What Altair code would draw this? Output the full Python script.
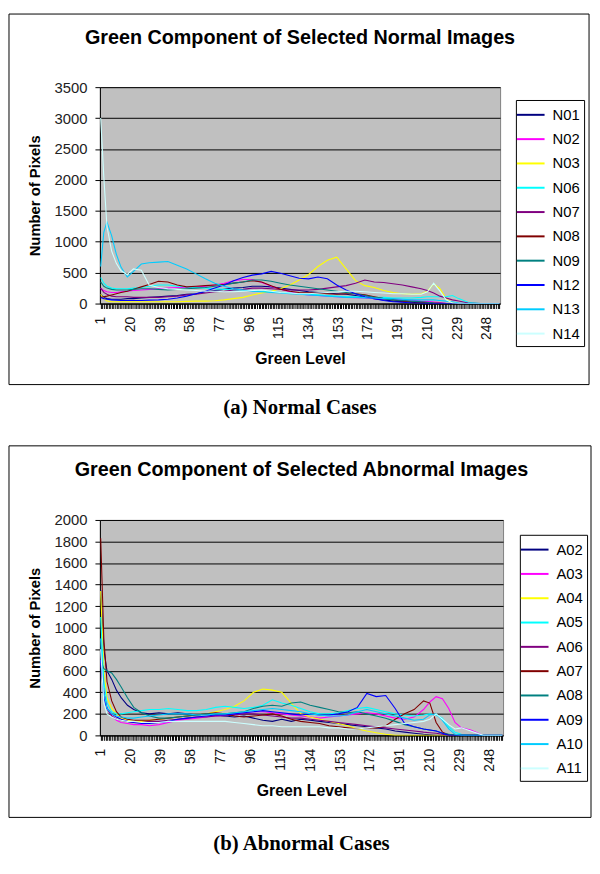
import altair as alt
import pandas as pd

LEVELS = [1, 3, 5, 8, 11, 14, 18, 22,
          27, 32, 38, 44, 50, 56, 62, 68,
          74, 80, 86, 92, 98, 104, 110, 116,
          122, 128, 134, 140, 146, 152, 158, 164,
          170, 176, 182, 188, 194, 200, 206, 210,
          214, 218, 222, 226, 230, 236, 244, 256]

COLORS = ["#000080", "#FF00FF", "#FFFF00", "#00FFFF", "#800080",
          "#800000", "#008080", "#0000FF", "#00CCFF", "#CCFFFF"]

NORMAL_NAMES = ["N01", "N02", "N03", "N06", "N07", "N08", "N09", "N12", "N13", "N14"]
N01 = [150, 100, 80, 70, 70, 70, 80, 80, 90, 100, 110, 120, 130, 150, 160, 190,
       210, 230, 250, 260, 280, 280, 270, 250, 230, 210, 190, 180, 170, 160, 150, 130,
       100, 80, 60, 40, 30, 20, 10, 5, 0, 0, 0, 0, 0, 0, 0, 0]
N02 = [250, 210, 190, 180, 180, 190, 200, 210, 220, 230, 240, 250, 260, 260, 270, 280,
       300, 330, 370, 390, 390, 340, 280, 230, 190, 160, 140, 130, 120, 110, 100, 95,
       90, 80, 75, 70, 60, 55, 40, 35, 25, 15, 5, 0, 0, 0, 0, 0]
N03 = [150, 80, 40, 30, 30, 30, 30, 30, 30, 30, 30, 30, 30, 35, 40, 40,
       45, 60, 80, 100, 140, 170, 200, 240, 300, 380, 470, 600, 700, 750, 560, 370,
       290, 260, 210, 180, 160, 150, 160, 200, 320, 240, 80, 10, 0, 0, 0, 0]
N06 = [420, 330, 280, 250, 240, 240, 240, 250, 260, 280, 300, 300, 280, 270, 260, 250,
       240, 230, 220, 220, 210, 200, 200, 180, 170, 160, 150, 140, 130, 120, 110, 110,
       100, 100, 100, 90, 90, 90, 100, 110, 110, 110, 110, 130, 80, 20, 0, 0]
N07 = [250, 180, 150, 120, 110, 110, 110, 100, 100, 100, 100, 110, 120, 140, 150, 170,
       190, 200, 220, 230, 250, 250, 240, 230, 220, 220, 220, 230, 250, 270, 290, 330,
       380, 350, 340, 320, 300, 270, 240, 210, 170, 120, 90, 60, 40, 10, 0, 0]
N08 = [100, 110, 120, 140, 160, 180, 200, 230, 270, 310, 360, 350, 300, 270, 280, 290,
       300, 310, 330, 350, 370, 350, 290, 230, 200, 180, 175, 170, 160, 150, 160, 160,
       140, 110, 80, 60, 40, 30, 20, 15, 10, 5, 0, 0, 0, 0, 0, 0]
N09 = [350, 280, 250, 230, 220, 220, 220, 230, 240, 240, 230, 220, 230, 240, 250, 260,
       280, 300, 330, 350, 380, 380, 360, 330, 300, 280, 260, 240, 220, 200, 180, 160,
       130, 100, 80, 60, 50, 40, 30, 20, 10, 5, 0, 0, 0, 0, 0, 0]
N12 = [100, 80, 70, 60, 55, 50, 50, 50, 50, 55, 60, 70, 90, 120, 160, 200,
       250, 300, 370, 420, 460, 480, 520, 490, 450, 410, 400, 430, 400, 300, 220, 160,
       110, 80, 50, 30, 20, 10, 5, 0, 0, 0, 0, 0, 0, 0, 0, 0]
N13 = [600, 1150, 1320, 1100, 800, 590, 430, 520, 640, 660, 670, 680, 620, 560, 480, 400,
       330, 280, 240, 220, 200, 190, 180, 170, 160, 150, 140, 130, 120, 110, 100, 100,
       90, 90, 80, 80, 70, 60, 60, 60, 60, 50, 40, 30, 10, 0, 0, 0]
N14 = [3000, 2050, 1250, 850, 650, 530, 470, 560, 540, 300, 260, 240, 230, 220, 210, 200,
       200, 190, 190, 200, 210, 220, 200, 180, 170, 160, 160, 170, 180, 190, 200, 200,
       190, 180, 170, 160, 160, 150, 150, 190, 330, 200, 60, 10, 0, 0, 0, 0]
NORMAL = [N01, N02, N03, N06, N07, N08, N09, N12, N13, N14]

ABNORMAL_NAMES = ["A02", "A03", "A04", "A05", "A06", "A07", "A08", "A09", "A10", "A11"]
A02 = [1350, 800, 600, 520, 420, 350, 280, 240, 210, 200, 210, 200, 210, 200, 190, 200,
       190, 180, 170, 180, 160, 140, 130, 150, 130, 150, 140, 130, 120, 110, 100, 90,
       80, 70, 60, 40, 30, 20, 10, 5, 0, 0, 0, 0, 0, 0, 0, 0]
A03 = [700, 400, 250, 180, 140, 120, 110, 100, 100, 90, 100, 120, 140, 150, 160, 170,
       180, 190, 200, 210, 220, 220, 210, 200, 190, 180, 170, 160, 170, 180, 190, 200,
       210, 200, 180, 160, 150, 170, 240, 310, 360, 340, 250, 120, 70, 50, 0, 0]
A04 = [1340, 600, 350, 250, 200, 160, 140, 130, 130, 140, 150, 160, 170, 180, 190, 200,
       220, 240, 270, 320, 400, 430, 420, 400, 300, 200, 170, 150, 130, 110, 90, 60,
       40, 25, 10, 0, 0, 0, 0, 0, 0, 0, 0, 0, 0, 0, 0, 0]
A05 = [1100, 500, 300, 220, 200, 200, 210, 220, 230, 240, 240, 250, 240, 230, 230, 240,
       260, 270, 260, 250, 260, 280, 330, 300, 280, 250, 220, 200, 200, 210, 230, 250,
       260, 240, 220, 200, 190, 180, 190, 200, 190, 160, 80, 30, 10, 0, 0, 0]
A06 = [800, 400, 250, 180, 150, 140, 130, 120, 120, 130, 130, 140, 150, 160, 170, 170,
       180, 180, 190, 200, 200, 190, 180, 170, 160, 160, 150, 140, 130, 120, 110, 100,
       90, 80, 70, 60, 50, 40, 30, 25, 20, 10, 0, 0, 0, 0, 0, 0]
A07 = [1830, 900, 500, 320, 220, 170, 150, 140, 140, 140, 150, 160, 170, 180, 190, 200,
       210, 200, 180, 170, 180, 190, 200, 180, 150, 130, 120, 110, 90, 80, 70, 60,
       70, 70, 90, 150, 200, 240, 320, 300, 120, 30, 5, 0, 0, 0, 0, 0]
A08 = [700, 620, 600, 580, 520, 450, 350, 260, 210, 180, 160, 160, 170, 180, 190, 200,
       200, 200, 210, 220, 250, 270, 280, 270, 300, 310, 280, 260, 240, 220, 210, 220,
       200, 180, 160, 130, 100, 80, 60, 50, 40, 20, 10, 0, 0, 0, 0, 0]
A09 = [700, 350, 250, 200, 170, 150, 130, 120, 110, 110, 120, 130, 150, 160, 170, 180,
       190, 190, 200, 210, 220, 230, 220, 210, 200, 190, 200, 190, 190, 200, 220, 260,
       390, 360, 370, 250, 110, 80, 60, 50, 40, 20, 0, 0, 0, 0, 0, 0]
A10 = [900, 400, 250, 200, 180, 170, 160, 160, 170, 180, 190, 200, 200, 200, 190, 190,
       200, 200, 210, 220, 230, 240, 250, 240, 230, 220, 200, 190, 180, 180, 190, 220,
       240, 220, 200, 180, 160, 140, 150, 190, 200, 140, 60, 10, 0, 0, 0, 0]
A11 = [800, 300, 200, 170, 150, 140, 130, 130, 120, 120, 120, 130, 130, 130, 130, 130,
       130, 130, 120, 110, 100, 90, 90, 80, 80, 80, 80, 80, 70, 70, 60, 60,
       70, 80, 90, 100, 110, 120, 130, 150, 200, 150, 100, 60, 70, 40, 0, 0]
ABNORMAL = [A02, A03, A04, A05, A06, A07, A08, A09, A10, A11]

TITLES = ["Green Component of Selected Normal Images",
          "Green Component of Selected Abnormal Images"]
CAPTIONS = ["(a) Normal Cases", "(b) Abnormal Cases"]
X_TITLE = "Green Level"
Y_TITLE = "Number of Pixels"
TICK_LEVELS = list(range(1, 257))

SANS = "Liberation Sans"
SERIF = "Liberation Serif"


def long_table(names, series):
    rows = []
    for name, vals in zip(names, series):
        assert len(vals) == len(LEVELS), name
        for lv, v in zip(LEVELS, vals):
            rows.append({"level": lv, "pixels": v, "series": name})
    return pd.DataFrame(rows)


def panel(names, series, ymax, ystep, title, caption, w, h, frame, title_y, cap_y, leg_xy):
    df = long_table(names, series)
    lines = alt.Chart(df).mark_line(strokeWidth=1.1, clip=True).encode(
        x=alt.X("level:Q",
                scale=alt.Scale(domain=[0.5, 256.5], nice=False, zero=False),
                axis=alt.Axis(values=TICK_LEVELS,
                              labelExpr="(datum.value - 1) % 19 == 0 ? datum.label : ''",
                              labelOverlap=False, labelFlush=False, labelBound=False,
                              labelAngle=270, labelAlign="right", labelBaseline="middle",
                              labelFontSize=14, labelColor="#111", labelPadding=8,
                              tickSize=5, tickColor="black", tickWidth=1,
                              domainColor="black", grid=False,
                              title=X_TITLE, titleFontSize=16, titleFontWeight="bold",
                              titleColor="black", titlePadding=11)),
        y=alt.Y("pixels:Q",
                scale=alt.Scale(domain=[0, ymax], nice=False),
                axis=alt.Axis(values=list(range(0, ymax + 1, ystep)), format="d",
                              labelFontSize=15, labelColor="#222", labelPadding=8,
                              tickSize=5, tickColor="black", domainColor="black",
                              grid=True, gridColor="black", gridWidth=1,
                              title=Y_TITLE, titleFontSize=15, titleFontWeight="bold",
                              titleColor="black", titlePadding=12)),
        color=alt.Color("series:N",
                        scale=alt.Scale(domain=names, range=COLORS),
                        sort=names,
                        legend=alt.Legend(orient="none", legendX=leg_xy[0], legendY=leg_xy[1],
                                          title=None, strokeColor="black", fillColor="white",
                                          padding=4, labelFontSize=15, labelColor="black",
                                          symbolType="M-1.4,0H1.4", symbolSize=400,
                                          symbolStrokeWidth=2, rowPadding=5.6, labelOffset=11)),
    )
    box = alt.Chart(pd.DataFrame({"f": [0]})).mark_rect(
        filled=False, stroke="black", strokeWidth=1
    ).encode(x=alt.value(frame[0]), x2=alt.value(frame[1]),
             y=alt.value(frame[2]), y2=alt.value(frame[3]))
    ttl = alt.Chart(pd.DataFrame({"t": [title]})).mark_text(
        font=SANS, fontSize=20, fontWeight="bold", color="black", baseline="middle"
    ).encode(text="t:N", x=alt.value(w / 2), y=alt.value(title_y))
    cap = alt.Chart(pd.DataFrame({"t": [caption]})).mark_text(
        font=SERIF, fontSize=21, fontWeight="bold", color="black", baseline="middle"
    ).encode(text="t:N", x=alt.value(w / 2), y=alt.value(cap_y))
    return alt.layer(box, lines, ttl, cap).properties(width=w, height=h)


top = panel(NORMAL_NAMES, NORMAL, 3500, 500, TITLES[0], CAPTIONS[0],
            405, 219, (-92, 495, -74, 301), -50, 325, (421, 13))
bottom = panel(ABNORMAL_NAMES, ABNORMAL, 2000, 200, TITLES[1], CAPTIONS[1],
               408, 218, (-92, 497, -75, 301), -50, 328, (425, 15))

chart = alt.vconcat(top, bottom, spacing=26).resolve_scale(
    color="independent", x="independent", y="independent"
).properties(padding=0, background="white").configure(
    font=SANS
).configure_view(fill="#C0C0C0", stroke="#808080", strokeWidth=1)

chart.save("out.html", embed_options={"renderer": "svg", "actions": False})
